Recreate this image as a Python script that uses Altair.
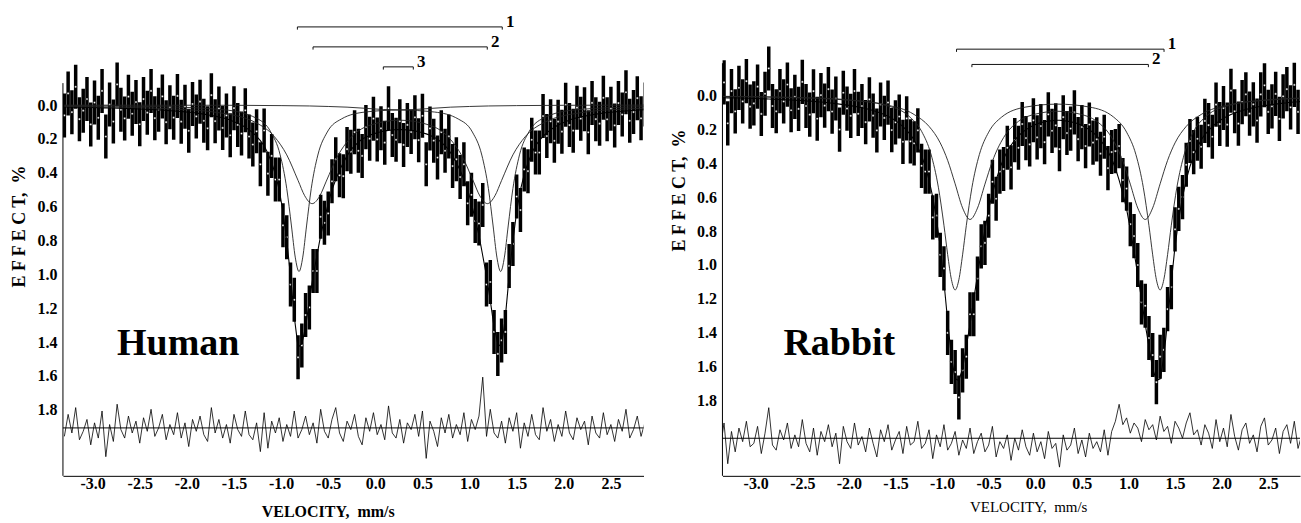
import altair as alt
import pandas as pd

FONT = "Liberation Serif"
ERR = 0.13
X_TICKS = [-3.0, -2.5, -2.0, -1.5, -1.0, -0.5, 0.0, 0.5, 1.0, 1.5, 2.0, 2.5]
Y_TICKS = [0.0, 0.2, 0.4, 0.6, 0.8, 1.0, 1.2, 1.4, 1.6, 1.8]
Y_TITLE = "E F F E C T,\u00a0 %"
X_TITLE = "VELOCITY,\u00a0 mm/s"

# ---------------- Human spectrum (velocity channels: start, step) ----------------
H_V0 = -3.30
H_STEP = 0.04
H_FIT = [
    0.011, 0.011, 0.012, 0.012, 0.013, 0.013, 0.014, 0.014, 0.015, 0.015,
    0.016, 0.016, 0.017, 0.017, 0.018, 0.018, 0.019, 0.020, 0.021, 0.022,
    0.023, 0.024, 0.025, 0.026, 0.027, 0.028, 0.029, 0.031, 0.033, 0.034,
    0.036, 0.038, 0.040, 0.042, 0.044, 0.047, 0.050, 0.053, 0.057, 0.061,
    0.065, 0.070, 0.075, 0.081, 0.088, 0.098, 0.107, 0.118, 0.131, 0.146,
    0.163, 0.185, 0.21, 0.24, 0.285, 0.34, 0.41, 0.50, 0.63, 0.80,
    1.01, 1.25, 1.43, 1.41, 1.31, 1.155, 1.01, 0.89, 0.77, 0.675,
    0.58, 0.50, 0.44, 0.385, 0.34, 0.30, 0.265, 0.24, 0.22, 0.20,
    0.19, 0.178, 0.17, 0.163, 0.157, 0.152, 0.149, 0.147, 0.145, 0.145,
    0.145, 0.147, 0.149, 0.152, 0.157, 0.163, 0.17, 0.178, 0.19, 0.20,
    0.22, 0.24, 0.265, 0.30, 0.34, 0.385, 0.44, 0.50, 0.58, 0.675,
    0.77, 0.89, 1.01, 1.155, 1.31, 1.41, 1.43, 1.25, 1.01, 0.80,
    0.63, 0.50, 0.41, 0.34, 0.285, 0.24, 0.21, 0.185, 0.163, 0.146,
    0.131, 0.118, 0.107, 0.098, 0.088, 0.081, 0.075, 0.070, 0.065, 0.061,
    0.057, 0.053, 0.050, 0.047, 0.044, 0.042, 0.040, 0.038, 0.036, 0.034,
    0.033, 0.031, 0.029, 0.028, 0.027,
]
H_RES = [
    0.05, -0.08, 0.03, -0.12, 0.07, 0.02, -0.05, 0.10, -0.03, 0.06,
    -0.10, 0.17, -0.02, 0.08, -0.14, 0.01, 0.06, -0.07, 0.03, -0.04,
    0.09, -0.06, 0.02, -0.11, 0.05, 0.00, -0.08, 0.07, -0.02, 0.04,
    -0.09, 0.06, -0.03, 0.11, -0.05, 0.02, -0.07, 0.04, 0.08, -0.12,
    0.03, -0.05, 0.06, -0.02, 0.09, -0.08, 0.01, 0.05, -0.10, 0.04,
    0.07, -0.03, 0.14, -0.09, 0.12, -0.04, 0.03, -0.06, 0.08, -0.02,
    0.05, -0.10, 0.06, 0.01, -0.07, 0.04, -0.03, 0.09, -0.11, 0.02,
    0.06, -0.05, -0.12, 0.03, 0.08, -0.04, 0.01, -0.08, 0.05, 0.10,
    -0.06, 0.02, -0.09, 0.04, -0.02, 0.07, -0.13, 0.03, 0.06, -0.05,
    0.09, -0.03, 0.01, -0.08, 0.05, -0.10, 0.18, -0.04, 0.02, 0.11,
    -0.06, 0.03, -0.08, 0.06, -0.02, 0.04, -0.09, 0.08, -0.05, 0.01,
    -0.07, -0.30, 0.05, -0.11, 0.03, 0.06, -0.04, 0.09, -0.06, 0.02,
    -0.09, 0.12, -0.03, 0.05, -0.08, 0.04, 0.07, -0.12, 0.02, -0.05,
    0.08, -0.02, 0.05, -0.10, 0.03, 0.07, -0.06, 0.01, -0.04, 0.10,
    -0.07, 0.03, 0.06, -0.09, 0.04, -0.02, 0.08, -0.05, 0.02, -0.11,
    0.06, 0.01, -0.07, 0.05, -0.03,
]
H_C1_V = [-3.3, -2.3, -1.6, -1.26, -1.11, -1.01, -0.94, -0.89, -0.85, -0.81, -0.77, -0.73,
          -0.68, -0.61, -0.51, -0.36, -0.11, 0.26, 0.63, 0.88, 1.03, 1.13, 1.20, 1.25, 1.29,
          1.33, 1.37, 1.41, 1.46, 1.53, 1.63, 1.78, 2.12, 2.86]
H_C1 = [0.003, 0.009, 0.028, 0.078, 0.158, 0.294, 0.493, 0.714, 0.898, 0.983, 0.898, 0.714,
        0.493, 0.295, 0.159, 0.082, 0.041, 0.029, 0.041, 0.082, 0.159, 0.295, 0.493, 0.714, 0.898,
        0.983, 0.898, 0.714, 0.493, 0.294, 0.158, 0.078, 0.028, 0.009]
H_C2_V = [-3.3, -2.67, -2.17, -1.67, -1.27, -1.07, -0.94, -0.82, -0.75, -0.67, -0.59, -0.52,
          -0.40, -0.27, -0.07, 0.26, 0.59, 0.79, 0.92, 1.04, 1.11, 1.19, 1.27, 1.34, 1.46,
          1.59, 1.79, 2.19, 2.69, 2.86]
H_C2 = [0.008, 0.013, 0.022, 0.044, 0.103, 0.187, 0.294, 0.445, 0.535, 0.582, 0.537, 0.449,
        0.301, 0.198, 0.121, 0.089, 0.121, 0.198, 0.301, 0.449, 0.537, 0.582, 0.535, 0.445, 0.294,
        0.187, 0.103, 0.044, 0.022, 0.018]
H_C3_V = [-3.3, -1.5, -1.0, -0.7, -0.5, -0.3, -0.1, 0.09, 0.25, 0.41, 0.6, 0.8, 1.0, 1.2, 1.5, 2.0, 2.86]
H_C3 = [0.0, 0.001, 0.003, 0.005, 0.008, 0.012, 0.019, 0.026, 0.028, 0.026, 0.019, 0.012, 0.008,
        0.005, 0.003, 0.001, 0.0]
H_BR_X1 = [-0.827, -0.661, 0.085]
H_BR_X2 = [1.347, 1.188, 0.403]
H_BR_Y = [-0.462, -0.344, -0.226]
H_BR_LAB = ["1", "2", "3"]

# ---------------- Rabbit spectrum ----------------
R_V0 = -3.38
R_STEP = 0.04
R_FIT = [
    0.015, 0.015, 0.016, 0.016, 0.016, 0.017, 0.017, 0.018, 0.018, 0.019,
    0.020, 0.021, 0.022, 0.023, 0.024, 0.025, 0.026, 0.027, 0.028, 0.029,
    0.030, 0.031, 0.032, 0.034, 0.035, 0.037, 0.039, 0.040, 0.042, 0.045,
    0.047, 0.050, 0.053, 0.056, 0.059, 0.062, 0.066, 0.070, 0.074, 0.079,
    0.085, 0.091, 0.098, 0.105, 0.114, 0.124, 0.136, 0.150, 0.166, 0.185,
    0.207, 0.232, 0.264, 0.307, 0.356, 0.420, 0.50, 0.60, 0.73, 0.89,
    1.10, 1.33, 1.54, 1.67, 1.68, 1.61, 1.48, 1.35, 1.20, 1.06,
    0.92, 0.79, 0.67, 0.58, 0.50, 0.43, 0.375, 0.33, 0.295, 0.265,
    0.24, 0.22, 0.203, 0.19, 0.178, 0.169, 0.162, 0.157, 0.153, 0.150,
    0.148, 0.148, 0.150, 0.153, 0.157, 0.162, 0.169, 0.178, 0.19, 0.203,
    0.22, 0.24, 0.265, 0.295, 0.33, 0.375, 0.43, 0.50, 0.58, 0.67,
    0.79, 0.92, 1.06, 1.20, 1.35, 1.48, 1.61, 1.68, 1.67, 1.54,
    1.33, 1.10, 0.89, 0.73, 0.60, 0.50, 0.420, 0.356, 0.307, 0.264,
    0.232, 0.207, 0.185, 0.166, 0.150, 0.136, 0.124, 0.114, 0.105, 0.098,
    0.091, 0.085, 0.079, 0.074, 0.070, 0.066, 0.062, 0.059, 0.056, 0.053,
    0.050, 0.047, 0.045, 0.042, 0.040, 0.039, 0.037,
]
R_RES = [
    0.06, -0.09, 0.15, -0.04, 0.08, -0.06, 0.02, -0.10, 0.05, 0.03,
    -0.07, 0.09, -0.03, -0.18, 0.04, 0.07, -0.05, 0.01, -0.09, 0.06,
    -0.02, 0.05, -0.11, 0.03, 0.08, -0.06, 0.10, -0.04, 0.02, -0.08,
    0.05, -0.03, 0.15, -0.07, 0.02, 0.06, -0.09, 0.04, -0.01, 0.08,
    -0.06, 0.03, 0.11, -0.05, 0.02, -0.08, 0.07, 0.01, -0.04, 0.09,
    -0.07, 0.04, 0.02, -0.10, 0.06, 0.03, -0.05, 0.12, -0.02, 0.05,
    -0.08, 0.07, 0.03, -0.04, 0.10, 0.01, 0.06, -0.06, 0.09, 0.02,
    -0.03, 0.08, 0.04, -0.07, 0.11, 0.02, 0.06, -0.02, 0.13, 0.00,
    0.07, -0.05, 0.05, 0.10, -0.03, 0.08, 0.02, 0.12, -0.04, 0.06,
    0.03, 0.17, -0.02, 0.07, 0.04, -0.06, 0.09, 0.01, 0.11, -0.03,
    0.06, 0.02, 0.08, -0.05, 0.10, -0.04, -0.10, -0.20, -0.08, -0.12,
    -0.03, -0.09, -0.06, 0.02, -0.11, -0.05, -0.08, 0.01, -0.13, -0.04,
    -0.07, 0.03, -0.10, -0.06, 0.00, -0.09, -0.15, -0.02, -0.05, 0.04,
    -0.08, -0.03, 0.06, -0.11, 0.02, -0.06, 0.05, -0.14, -0.01, 0.07,
    -0.05, -0.09, 0.03, -0.02, 0.08, -0.07, -0.12, 0.04, 0.01, -0.06,
    0.09, -0.04, -0.08, 0.03, -0.10, 0.06, -0.02,
]
R_C1_V = [-3.38, -2.5, -2.0, -1.6, -1.36, -1.22, -1.12, -1.04, -0.98, -0.94, -0.90, -0.86,
          -0.82, -0.78, -0.74, -0.68, -0.60, -0.50, -0.36, -0.10, 0.24, 0.58, 0.84, 0.98,
          1.08, 1.16, 1.22, 1.26, 1.30, 1.34, 1.38, 1.42, 1.46, 1.52, 1.60, 1.70, 1.84,
          2.08, 2.48, 2.86]
R_C1 = [0.007, 0.014, 0.028, 0.061, 0.122, 0.213, 0.346, 0.542, 0.766, 0.939, 1.085, 1.147,
        1.087, 0.94, 0.768, 0.545, 0.35, 0.218, 0.129, 0.070, 0.053, 0.070, 0.129, 0.218,
        0.35, 0.545, 0.768, 0.94, 1.087, 1.147, 1.085, 0.939, 0.766, 0.542, 0.346, 0.213, 0.122,
        0.061, 0.028, 0.017]
R_C2_V = [-3.38, -2.6, -2.0, -1.6, -1.3, -1.14, -1.02, -0.94, -0.86, -0.78, -0.70, -0.62,
          -0.54, -0.46, -0.34, -0.18, 0.0, 0.24, 0.48, 0.66, 0.82, 0.94, 1.02, 1.10, 1.18,
          1.26, 1.34, 1.42, 1.50, 1.62, 1.78, 2.08, 2.48, 2.86]
R_C2 = [0.008, 0.015, 0.030, 0.057, 0.114, 0.184, 0.281, 0.384, 0.522, 0.664, 0.732, 0.665,
        0.524, 0.389, 0.25, 0.154, 0.112, 0.095, 0.112, 0.154, 0.25, 0.389, 0.524, 0.665, 0.732,
        0.664, 0.522, 0.384, 0.281, 0.184, 0.114, 0.057, 0.030, 0.019]
R_BR_X1 = [-0.845, -0.680]
R_BR_X2 = [1.382, 1.214]
R_BR_Y = [-0.2706, -0.1806]
R_BR_LAB = ["1", "2"]

LABEL_EXPR = "replace(format(datum.value, '.1f'), '\u2212', '-')"


def make_panel(v0, step, fit, res, comps, base, xdom, ydom, w, h, axis_top,
               br_x1, br_x2, br_y, br_lab, name, name_v, name_y,
               ytitle_y, xtitle_x, xtitle_y, xtitle_weight, xtitle_size):
    n = len(fit)
    vel = [round(v0 + step * i, 4) for i in range(n)]
    obs = [f + r for f, r in zip(fit, res)]
    df = pd.DataFrame({
        "v": vel, "fit": fit, "obs": obs,
        "lo": [o - ERR for o in obs], "hi": [o + ERR for o in obs],
        "res": [base + r for r in res],
    })
    xs = alt.Scale(domain=xdom, nice=False, zero=False)
    ys = alt.Scale(domain=ydom, nice=False, zero=False, reverse=True)
    xax = alt.Axis(values=X_TICKS, labelExpr=LABEL_EXPR, title=X_TITLE, grid=False,
                   ticks=False, tickSize=0, labelPadding=0, labelFont=FONT, labelFontSize=16,
                   labelFontWeight="bold", labelColor="black", labelFlush=False,
                   labelOverlap=False, titleFont=FONT, titleFontSize=xtitle_size,
                   titleFontWeight=xtitle_weight, titleColor="black", titleX=xtitle_x,
                   titleY=xtitle_y, titleBaseline="alphabetic", domainColor="black",
                   domainWidth=1)
    yax = alt.Axis(values=Y_TICKS, format=".1f", title=Y_TITLE, grid=False, ticks=False,
                   tickSize=0, domain=False, labelPadding=6, labelFont=FONT, labelFontSize=16,
                   labelFontWeight="bold", labelColor="black", labelOverlap=False,
                   titleFont=FONT, titleFontSize=18, titleFontWeight="bold",
                   titleColor="black", titlePadding=8, titleY=ytitle_y)

    def X(f):
        return alt.X(f"{f}:Q", scale=xs, axis=xax)

    def Y(f):
        return alt.Y(f"{f}:Q", scale=ys, axis=yax)

    c = alt.Chart(df)
    bars = c.mark_rule(color="black", strokeWidth=3.5, clip=True).encode(
        x=X("v"), y=Y("lo"), y2="hi")
    dots = c.mark_point(shape="circle", size=5, filled=True, fill="white", stroke="black",
                        strokeWidth=0.4, opacity=1, clip=True).encode(x=X("v"), y=Y("obs"))
    fitl = c.mark_line(color="black", strokeWidth=1.1, clip=True).encode(x=X("v"), y=Y("fit"))
    resl = c.mark_line(color="black", strokeWidth=0.8, clip=True).encode(x=X("v"), y=Y("res"))

    rows = []
    for k, (vv, yy) in enumerate(comps):
        for a, b in zip(vv, yy):
            rows.append({"v": a, "val": b, "comp": f"c{k + 1}"})
    cdf = pd.DataFrame(rows)
    compl = alt.Chart(cdf).mark_line(color="#222", strokeWidth=0.9, interpolate="monotone",
                                     clip=True).encode(x=X("v"), y=Y("val"), detail="comp:N")

    bdf = pd.DataFrame({"x1": [xdom[0]], "x2": [xdom[1]], "y": [base]})
    baseline = alt.Chart(bdf).mark_rule(color="black", strokeWidth=1).encode(
        x=X("x1"), x2="x2", y=Y("y"))
    adf = pd.DataFrame({"x": [xdom[0]], "y1": [axis_top], "y2": [ydom[1]]})
    axis_line = alt.Chart(adf).mark_rule(color="black", strokeWidth=1).encode(
        x=X("x"), y=Y("y1"), y2="y2")

    brdf = pd.DataFrame({"x1": br_x1, "x2": br_x2, "y": br_y, "lab": br_lab,
                         "yt": [y + 0.016 for y in br_y],
                         "lx": [x + 0.04 for x in br_x2]})
    br_h = alt.Chart(brdf).mark_rule(color="#111", strokeWidth=1).encode(
        x=X("x1"), x2="x2", y=Y("y"))
    br_t1 = alt.Chart(brdf).mark_rule(color="#111", strokeWidth=1).encode(
        x=X("x1"), y=Y("y"), y2="yt")
    br_t2 = alt.Chart(brdf).mark_rule(color="#111", strokeWidth=1).encode(
        x=X("x2"), y=Y("y"), y2="yt")
    br_txt = alt.Chart(brdf).mark_text(align="left", baseline="alphabetic", font=FONT,
                                       fontSize=17, fontWeight="bold", color="black").encode(
        x=X("lx"), y=Y("y"), text="lab:N")

    ndf = pd.DataFrame({"v": [name_v], "y": [name_y], "t": [name]})
    name_txt = alt.Chart(ndf).mark_text(align="center", baseline="alphabetic", font=FONT,
                                        fontSize=38, fontWeight="bold", color="black").encode(
        x=X("v"), y=Y("y"), text="t:N")

    return alt.layer(bars, dots, fitl, compl, resl, baseline, axis_line, br_h, br_t1, br_t2,
                     br_txt, name_txt).properties(width=w, height=h)


left = make_panel(H_V0, H_STEP, H_FIT, H_RES,
                  [(H_C1_V, H_C1), (H_C2_V, H_C2), (H_C3_V, H_C3)],
                  1.907, [-3.315, 2.846], [-0.5726, 2.1901], 581, 468, -0.13,
                  H_BR_X1, H_BR_X2, H_BR_Y, H_BR_LAB, "Human", -2.092, 1.476,
                  218, 265, 41, "bold", 16)
right = make_panel(R_V0, R_STEP, R_FIT, R_RES,
                   [(R_C1_V, R_C1), (R_C2_V, R_C2)],
                   2.02, [-3.357, 2.841], [-0.5118, 2.2412], 578, 468, -0.188,
                   R_BR_X1, R_BR_X2, R_BR_Y, R_BR_LAB, "Rabbit", -2.103, 1.53,
                   182, 306, 36, "normal", 15)

chart = alt.hconcat(left, right, spacing=26).properties(
    padding={"left": 11, "top": 8, "right": 0, "bottom": 0},
    background="white",
).configure_view(stroke=None)

chart.save("out.html", embed_options={"renderer": "svg", "actions": False})
